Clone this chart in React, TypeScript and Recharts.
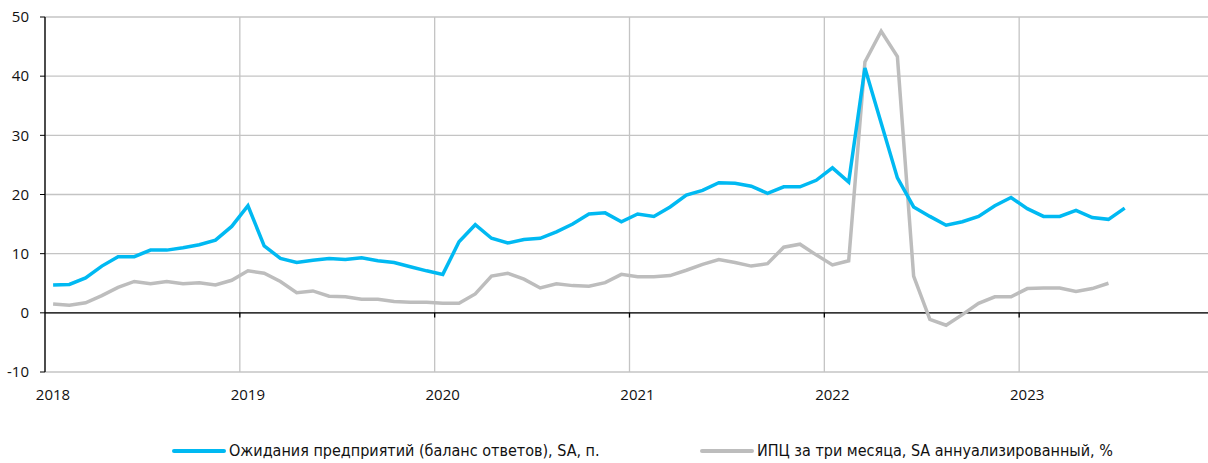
import React from 'react';
import { LineChart, Line, XAxis, YAxis, CartesianGrid, ReferenceLine } from 'recharts';

// monthly values, Jan 2018 onwards
const expectations = [
  4.7, 4.8, 5.9, 7.9, 9.5, 9.5, 10.6, 10.6, 11.0, 11.5, 12.3, 14.6,
  18.1, 11.3, 9.2, 8.5, 8.9, 9.2, 9.0, 9.3, 8.8, 8.5, 7.8, 7.1,
  6.5, 12.0, 14.9, 12.6, 11.8, 12.4, 12.6, 13.7, 15.0, 16.7, 16.9, 15.4,
  16.7, 16.3, 17.9, 19.9, 20.7, 22.0, 21.9, 21.4, 20.2, 21.3, 21.3, 22.4,
  24.5, 22.1, 41.4, 32.1, 22.8, 17.9, 16.3, 14.8, 15.4, 16.3, 18.1, 19.5,
  17.6, 16.3, 16.3, 17.3, 16.1, 15.8, 17.7,
];

const cpi3m = [
  1.5, 1.3, 1.7, 2.9, 4.3, 5.3, 4.9, 5.3, 4.9, 5.1, 4.7, 5.5,
  7.1, 6.7, 5.3, 3.4, 3.7, 2.8, 2.7, 2.3, 2.3, 1.9, 1.8, 1.8,
  1.6, 1.6, 3.2, 6.2, 6.7, 5.7, 4.2, 4.9, 4.6, 4.5, 5.1, 6.5,
  6.1, 6.1, 6.3, 7.2, 8.2, 9.0, 8.5, 7.9, 8.3, 11.1, 11.6, 9.8,
  8.1, 8.8, 42.4, 47.6, 43.3, 6.2, -1.1, -2.1, -0.3, 1.6, 2.7, 2.7,
  4.1, 4.2, 4.2, 3.6, 4.1, 5.0,
];

const yearLabels = ['2018', '2019', '2020', '2021', '2022', '2023'];
const yTicks = [-10, 0, 10, 20, 30, 40, 50];

const seriesNames = [
  'Ожидания предприятий (баланс ответов), SA, п.',
  'ИПЦ за три месяца, SA аннуализированный, %',
];
const seriesColors = ['#00B9F2', '#BDBDBD'];

// x = month index, points sit in the middle of each month
const data = expectations.map((v, i) => ({
  x: i + 0.5,
  exp: v,
  cpi: i < cpi3m.length ? cpi3m[i] : null,
}));

const yearTicks = [...yearLabels.map((_, i) => i * 12), yearLabels.length * 12];

const fontFamily = '"Open Sans", sans-serif';

const App: React.FC = () => {
  return (
    <div
      style={{
        position: 'absolute',
        left: 0,
        top: 0,
        width: 1208,
        height: 463,
        overflow: 'hidden',
        background: '#fff',
      }}
    >
      <LineChart
        width={1214}
        height={463}
        data={data}
        margin={{ top: 17, right: 0, bottom: 0, left: 0 }}
      >
        <CartesianGrid stroke="#C4C4C4" strokeWidth={1.3} />
        <XAxis
          dataKey="x"
          type="number"
          domain={[0, 72]}
          ticks={yearTicks}
          height={91}
          axisLine={false}
          tickLine={false}
          tickSize={6}
          tickMargin={11}
          interval={0}
          tick={{ fill: '#111', fontSize: 15, fontFamily, dx: 8 }}
          tickFormatter={(v: number) => yearLabels[v / 12] ?? ''}
        />
        <YAxis
          type="number"
          domain={[-10, 50]}
          ticks={yTicks}
          width={45}
          interval={0}
          axisLine={{ stroke: '#000', strokeWidth: 1.3 }}
          tickLine={{ stroke: '#000' }}
          tickSize={5}
          tickMargin={11}
          tick={{ fill: '#111', fontSize: 15, fontFamily }}
        />
        <ReferenceLine y={0} stroke="#000" strokeWidth={1.3} />
        {yearTicks.slice(1).map((t) => (
          <ReferenceLine
            key={t}
            segment={[
              { x: t, y: 0 },
              { x: t, y: -0.8 },
            ]}
            stroke="#000"
            strokeWidth={1.3}
          />
        ))}
        <Line
          type="linear"
          dataKey="cpi"
          stroke={seriesColors[1]}
          strokeWidth={3.5}
          dot={false}
          isAnimationActive={false}
          connectNulls={false}
        />
        <Line
          type="linear"
          dataKey="exp"
          stroke={seriesColors[0]}
          strokeWidth={3.5}
          dot={false}
          isAnimationActive={false}
        />
      </LineChart>

      {/* Legend */}
      {seriesNames.map((name, i) => (
        <div
          key={name}
          style={{
            position: 'absolute',
            top: 441,
            left: i === 0 ? 172 : 700,
            display: 'flex',
            alignItems: 'center',
            gap: 3,
          }}
        >
          <div style={{ width: 54, height: 4, borderRadius: 2, background: seriesColors[i] }} />
          <span
            style={{
              fontFamily: '"Liberation Sans Narrow", "DejaVu Sans Condensed", sans-serif',
              fontSize: 16,
              color: '#111',
              whiteSpace: 'nowrap',
              lineHeight: '20px',
            }}
          >
            {name}
          </span>
        </div>
      ))}
    </div>
  );
};

export default App;
